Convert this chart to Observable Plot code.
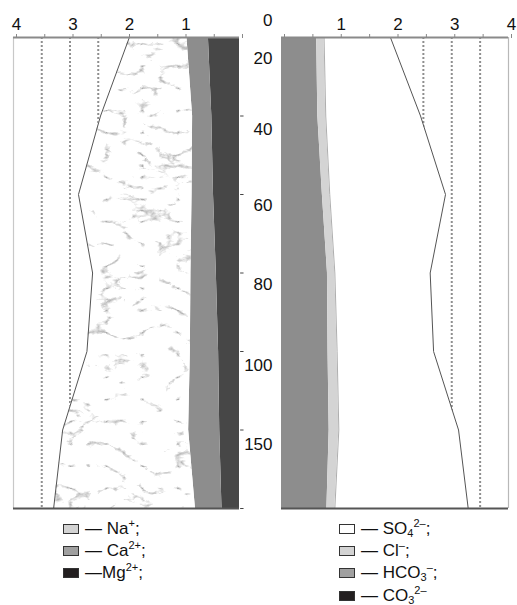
<!DOCTYPE html>
<html><head><meta charset="utf-8">
<script src="https://cdn.jsdelivr.net/npm/d3@7"></script>
<script src="https://cdn.jsdelivr.net/npm/@observablehq/plot@0.6"></script>
<style>
body{margin:0;background:#fff;font-family:"Liberation Sans",Arial,sans-serif;}
#wrap{position:relative;width:517px;height:605px;overflow:hidden}
#left{position:absolute;left:0;top:0}
#right{position:absolute;left:240px;top:0}
.row{position:absolute;height:20px;white-space:nowrap;display:flex;align-items:center;font-size:17px;color:#111;line-height:20px}
.sw{display:inline-block;width:14px;height:8px;border:1px solid #333;margin-right:6px;box-sizing:content-box}
sup{font-size:11px;vertical-align:7px;line-height:0}
sub{font-size:11px;vertical-align:-3px;line-height:0}
</style></head>
<body>
<svg width="0" height="0" style="position:absolute">
 <defs>
  <filter id="marbleF" x="0" y="0" width="100%" height="100%" color-interpolation-filters="sRGB">
   <feTurbulence type="turbulence" baseFrequency="0.028 0.045" numOctaves="4" seed="11"/>
   <feColorMatrix type="matrix" values="1.7 0 0 0 0.68  1.7 0 0 0 0.68  1.7 0 0 0 0.68  0 0 0 0 1"/>
  </filter>
  <pattern id="marble" patternUnits="userSpaceOnUse" width="260" height="520">
   <rect width="260" height="520" fill="#fff" filter="url(#marbleF)"/>
  </pattern>
 </defs>
</svg>
<div id="wrap">
 <div id="left"></div>
 <div id="right"></div>
</div>
<script>
// depth sample levels (top to bottom) and their labels
const levels = [0, 1, 2, 3, 4, 5, 6];
const depthLabels = ["0", "20", "40", "60", "80", "100", "150"];
const labelLevel = [-0.22, 0.27, 1.17, 2.14, 3.15, 4.18, 5.18];

// cations (left panel), stacked from 0 outward
const cations = ["Mg2+", "Ca2+", "Na+"];
const mg = [0.55, 0.49, 0.46, 0.41, 0.37, 0.35, 0.31];
const ca = [0.38, 0.34, 0.38, 0.45, 0.50, 0.55, 0.47];
const na = [1.02, 1.63, 2.01, 1.74, 1.83, 2.23, 2.51];

// anions (right panel), stacked from 0 outward
const anions = ["CO32-", "HCO3-", "Cl-", "SO42-"];
const co3 = [0, 0, 0, 0, 0, 0, 0];
const hco3 = [0.62, 0.64, 0.72, 0.81, 0.82, 0.84, 0.80];
const cl = [0.13, 0.14, 0.13, 0.13, 0.16, 0.17, 0.14];
const so4 = [1.17, 1.67, 2.04, 1.68, 1.70, 2.11, 2.35];

// x ticks and labels
const xTicks = [0, 0.5, 1, 1.5, 2, 2.5, 3, 3.5, 4];
const xTickLabels = ["", "", "1", "", "2", "", "3", "", "4"];
const gridValues = [2.5, 3, 3.5];

const leftSeries = [mg, ca, na];
const rightSeries = [co3, hco3, cl, so4];
const leftData = cations.flatMap((ion, k) => levels.map((l, i) => ({level: l, ion, value: leftSeries[k][i]})));
const rightData = anions.flatMap((ion, k) => levels.map((l, i) => ({level: l, ion, value: rightSeries[k][i]})));
const leftTotal = levels.map((l, i) => ({level: l, total: mg[i] + ca[i] + na[i]}));
const rightTotal = levels.map((l, i) => ({level: l, total: co3[i] + hco3[i] + cl[i] + so4[i], clEdge: co3[i] + hco3[i] + cl[i]}));
const labels = depthLabels.map((t, i) => ({t, l: labelLevel[i]}));

const fmt = d => xTickLabels[xTicks.indexOf(d)] ?? "";
const common = {
  height: 515, marginTop: 37, marginBottom: 7,
  y: {domain: [0, 6], reverse: true, axis: null},
  style: {fontFamily: "'Liberation Sans', Arial, sans-serif", fontSize: "17px", color: "#111", background: "transparent", overflow: "visible"}
};

const left = Plot.plot({
  ...common,
  width: 240, marginLeft: 13, marginRight: 1,
  x: {domain: [0, 4], reverse: true, axis: null},
  color: {domain: cations, range: ["#474747", "#8d8d8d", "url(#marble)"]},
  marks: [
    Plot.ruleX([4], {stroke: "#c8c8c8", strokeWidth: 1.2}),
    Plot.ruleX(gridValues, {stroke: "#8f8f8f", strokeWidth: 2, strokeDasharray: "2,2"}),
    Plot.areaX(leftData, Plot.stackX({y: "level", x: "value", z: "ion", fill: "ion", order: cations})),
    Plot.lineX(leftTotal, {x: "total", y: "level", stroke: "#555", strokeWidth: 1}),
    Plot.ruleY([6], {stroke: "#555", strokeWidth: 2}),
    Plot.ruleY([0], {stroke: "#8a8a8a", strokeWidth: 2}),
    Plot.axisX({anchor: "top", ticks: xTicks, tickSize: 4, tickPadding: 4, tickFormat: fmt, dx: 3, stroke: "#888", fontSize: 17})
  ]
});

const right = Plot.plot({
  ...common,
  width: 277, marginLeft: 41, marginRight: 9,
  x: {domain: [0, 4], axis: null},
  color: {domain: anions, range: ["#231f20", "#8d8d8d", "#d4d4d4", "#ffffff"]},
  marks: [
    Plot.ruleX([4], {stroke: "#b8b8b8", strokeWidth: 1.2}),
    Plot.ruleX(gridValues, {stroke: "#8f8f8f", strokeWidth: 2, strokeDasharray: "2,2"}),
    Plot.areaX(rightData, Plot.stackX({y: "level", x: "value", z: "ion", fill: "ion", order: anions})),
    Plot.lineX(rightTotal, {x: "clEdge", y: "level", stroke: "#999", strokeWidth: 0.8}),
    Plot.lineX(rightTotal, {x: "total", y: "level", stroke: "#555", strokeWidth: 1}),
    Plot.ruleY([6], {stroke: "#555", strokeWidth: 2}),
    Plot.ruleY([0], {stroke: "#8a8a8a", strokeWidth: 2}),
    Plot.ruleY(levels.slice(1), {x1: -0.72, x2: -0.66, stroke: "#444", strokeWidth: 1}),
    Plot.axisX({anchor: "top", ticks: xTicks, tickSize: 4, tickPadding: 4, tickFormat: fmt, dx: 3, stroke: "#888", fontSize: 17}),
    Plot.text(labels, {x: 0, y: "l", text: "t", dx: -9, textAnchor: "end", fontSize: 17, fill: "#111"})
  ]
});

document.getElementById("left").appendChild(left);
document.getElementById("right").appendChild(right);

// legends
const legendLeft = [
  {c: "#d3d3d3", html: "— Na<sup>+</sup>;"},
  {c: "#a0a0a0", html: "— Ca<sup>2+</sup>;"},
  {c: "#231f20", html: "—Mg<sup>2+</sup>;"}
];
const legendRight = [
  {c: "#ffffff", html: "— SO<sub>4</sub><sup>2–</sup>;"},
  {c: "#d3d3d3", html: "— Cl<sup>–</sup>;"},
  {c: "#a0a0a0", html: "— HCO<sub>3</sub><sup>–</sup>;"},
  {c: "#231f20", html: "— CO<sub>3</sub><sup>2–</sup>"}
];
const wrap = document.getElementById("wrap");
function addLegend(items, x, y0, dy) {
  items.forEach((it, i) => {
    const row = document.createElement("div");
    row.className = "row";
    row.style.left = x + "px";
    row.style.top = (y0 + i * dy - 10) + "px";
    row.innerHTML = `<span class="sw" style="background:${it.c}"></span><span>${it.html}</span>`;
    wrap.appendChild(row);
  });
}
addLegend(legendLeft, 63, 529, 22.2);
addLegend(legendRight, 339, 529, 22.2);
</script>
</body></html>
